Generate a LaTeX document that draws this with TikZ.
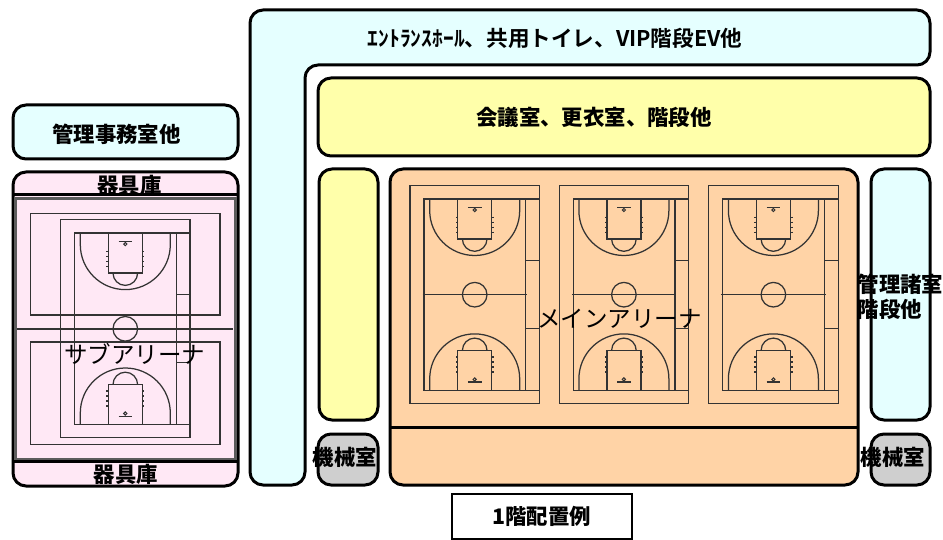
\documentclass[tikz,border=0pt]{standalone}
\usepackage{fontspec}
\setmainfont{Noto Sans CJK JP}
\newfontfamily\jpb[BoldFont={Noto Sans CJK JP Bold}]{Noto Sans CJK JP}
\definecolor{cyanfill}{HTML}{E5FFFF}
\definecolor{yelfill}{HTML}{FFFFAA}
\definecolor{orfill}{HTML}{FFD3A6}
\definecolor{pinkfill}{HTML}{FFE8F5}
\definecolor{grayfill}{HTML}{CFCFCF}
\definecolor{courtline}{HTML}{333333}
\tikzset{
  room/.style={draw=black,line width=3pt,rounded corners=13pt},
  lab/.style={font=\fontsize{21.4}{25}\selectfont\bfseries,inner sep=0pt,text=black},
  arena/.style={font=\fontsize{23.5}{26}\selectfont,inner sep=0pt,text=black},
  cl/.style={draw=courtline,line width=1.25pt},
  court/.pic={
    \draw[cl] (-64.7,-109) rectangle (64.8,109);
    \draw[cl] (-50.7,-95.7) rectangle (51,96);
    \draw[cl] (-52,0) -- (52.5,0);
    \draw[cl] (0,0) circle[radius=12.3];
    \foreach \s in {1,-1}{
      \begin{scope}[yscale=\s]
        \draw[cl] (51,-95.7) -- (64.8,-95.7);
        \draw[cl] (51,-34) -- (64.8,-34);
        \draw[cl] (-45,-95.7) -- (-45,-84.2) arc[start angle=180,end angle=0,radius=45] -- (45,-95.7);
        \draw[cl] (-17,-95.7) rectangle (17,-55.7);
        \draw[cl] (-12.3,-55.7) arc[start angle=180,end angle=0,radius=12.3];
        \draw[cl] (-6.8,-87.4) -- (6.8,-87.4);
        \draw[cl,line width=1pt] (0,-84.7) circle[radius=1.6];
        \draw[cl,line width=1.5pt,dash pattern=on 1.4pt off 3.6pt] (-18.4,-78) -- (-18.4,-60);
        \draw[cl,line width=1.5pt,dash pattern=on 1.4pt off 3.6pt] (18.4,-78) -- (18.4,-60);
      \end{scope}
    }
  }
}
\begin{document}
\begin{tikzpicture}[x=1pt,y=-1pt]
\useasboundingbox (0,0) rectangle (943,540);
% entrance L-shape
\draw[room,fill=cyanfill] (250,10) -- (930,10) -- (930,65) -- (305,65) -- (305,485) -- (250,485) -- cycle;
\node[lab] (entr) at (555,38) {\jpb\fontsize{21.6}{25}\selectfont\bfseries ｴﾝﾄﾗﾝｽﾎｰﾙ、共用トイレ、VIP階段EV他};
% conference
\draw[room,fill=yelfill] (318,78) rectangle (930,156);
\node[lab] (conf) at (594,117.5) {会議室、更衣室、階段他};
% admin
\draw[room,fill=cyanfill] (13,105) rectangle (238,159);
\node[lab] (admin) at (116.5,134.5) {管理事務室他};
% sub arena
\draw[room,fill=pinkfill] (13,172) rectangle (238,486);
\draw[black,line width=3pt] (13,195) -- (238,195);
\draw[black,line width=3pt] (13,461) -- (238,461);
\draw[draw=courtline!80,line width=2.4pt] (15.6,198.6) rectangle (235.4,459);
\draw[cl] (30.3,213.3) rectangle (220,315);
\draw[cl] (30.3,342) rectangle (220,444.7);
\draw[cl] (16.7,329) -- (233,329);
\pic at (125.3,328.8) {court};
\node[lab] (gu1) at (129.5,185) {器具庫};
\node[lab] (gu2) at (126,474.5) {器具庫};
\node[arena] (subar) at (134.5,353.5) {サブアリーナ};
% yellow
\draw[room,fill=yelfill] (319,169) rectangle (378,420);
% main arena
\draw[room,fill=orfill] (390,169) rectangle (858,485);
\draw[black,line width=3pt] (390,427) -- (858,427);
\pic at (474.7,294.7) {court};
\pic at (623.9,294.7) {court};
\pic at (773.4,294.7) {court};
\node[arena] (mainar) at (619.5,318.5) {メインアリーナ};
% right
\draw[room,fill=cyanfill] (871,169) rectangle (930,420);
\node[lab,align=left] (mgmt) at (900.5,296.5) {管理諸室\\階段他};
% machine rooms
\draw[room,fill=grayfill] (318,434) rectangle (378,485);
\node[lab] (mach1) at (344.8,457) {機械室};
\draw[room,fill=grayfill] (871,434) rectangle (930,485);
\node[lab] (mach2) at (893,457) {機械室};
% caption
\draw[draw=black,line width=2.6pt,fill=white] (452,494) rectangle (632,539);
\node[lab] (capt) at (541.8,516.5) {1階配置例};
\end{tikzpicture}
\end{document}
